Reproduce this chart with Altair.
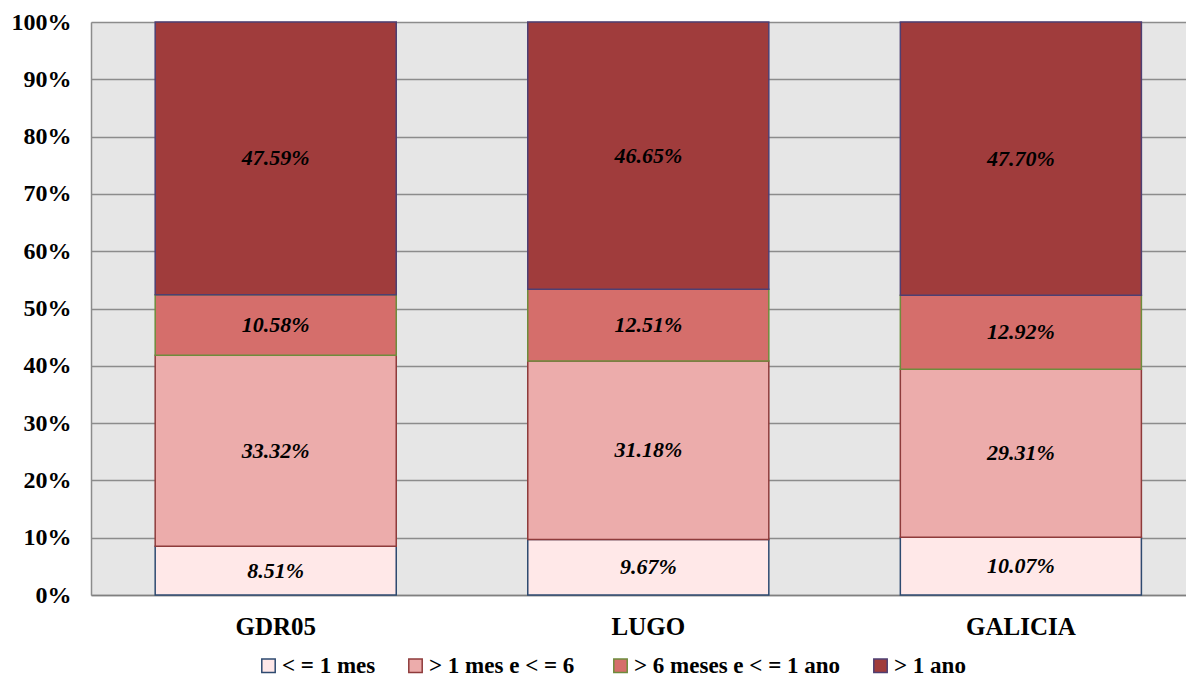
import altair as alt
import pandas as pd

regions = ["GDR05", "LUGO", "GALICIA"]
categories = ["< = 1 mes", ">  1 mes e < = 6", "> 6 meses e < = 1 ano", "> 1 ano"]
v_le_1mes = [8.51, 9.67, 10.07]
v_1_6mes = [33.32, 31.18, 29.31]
v_6m_1ano = [10.58, 12.51, 12.92]
v_gt_1ano = [47.59, 46.65, 47.70]

fills = ["#FFE8E8", "#ECACAB", "#D56E6B", "#A03C3C"]
strokes = ["#2E4A70", "#8E3B3B", "#6E8C3C", "#4E3F72"]

series = [v_le_1mes, v_1_6mes, v_6m_1ano, v_gt_1ano]
rows = []
for ci, (cat, vals) in enumerate(zip(categories, series)):
    for ri, reg in enumerate(regions):
        rows.append({"region": reg, "cat": cat, "order": ci, "value": vals[ri],
                     "label": f"{vals[ri]:.2f}%"})
df = pd.DataFrame(rows)

FONT = "Liberation Serif"

base = alt.Chart(df).transform_stack(
    stack="value", groupby=["region"], as_=["y0", "y1"],
    sort=[alt.SortField("order", order="ascending")], offset="normalize"
).transform_calculate(mid="(datum.y0 + datum.y1) / 2")

xenc = alt.X("region:N", sort=regions, title=None,
             scale=alt.Scale(paddingInner=0.353, paddingOuter=0.146, align=0.59),
             axis=alt.Axis(labelFont=FONT, labelFontWeight="bold", labelFontSize=25,
                           labelColor="black", labelAngle=0, labelPadding=19,
                           ticks=False, domainColor="#808080", domainWidth=1.5))

bars = base.mark_bar(strokeWidth=1.5).encode(
    x=xenc,
    y=alt.Y("y0:Q", title=None, scale=alt.Scale(domain=[0, 1]),
            axis=alt.Axis(format=".0%", values=[i / 10 for i in range(11)],
                          labelFont=FONT, labelFontWeight="bold", labelFontSize=24,
                          labelColor="black", labelPadding=20, ticks=False,
                          domainColor="#8C8C8C", domainWidth=1.5,
                          gridColor="#8C8C8C", gridWidth=1.5)),
    y2="y1:Q",
    color=alt.Color("cat:N", sort=categories, title=None,
                    scale=alt.Scale(domain=categories, range=fills),
                    legend=alt.Legend(orient="none", direction="horizontal",
                                      legendX=166, legendY=632,
                                      symbolType="square", symbolSize=180,
                                      symbolStrokeWidth=1.5, symbolOpacity=1,
                                      labelFont=FONT, labelFontWeight="bold",
                                      labelFontSize=23, labelColor="black",
                                      labelLimit=0,
                                      columnPadding=28, labelOffset=2)),
    stroke=alt.Stroke("cat:N", sort=categories, title=None,
                      scale=alt.Scale(domain=categories, range=strokes)),
    order=alt.Order("order:Q"),
)

texts = base.mark_text(font=FONT, fontWeight="bold", fontStyle="italic",
                       fontSize=22, color="black", baseline="middle").encode(
    x=alt.X("region:N", sort=regions),
    y=alt.Y("mid:Q"),
    text="label:N",
)

chart = alt.layer(bars, texts).properties(
    width=1095, height=573,
    autosize=alt.AutoSizeParams(type="none"),
    padding={"left": 83, "top": 14, "right": 0, "bottom": 84},
).configure_view(fill="#E6E6E6", stroke=None)

chart.save("out.html", embed_options={"renderer": "svg", "actions": False})
